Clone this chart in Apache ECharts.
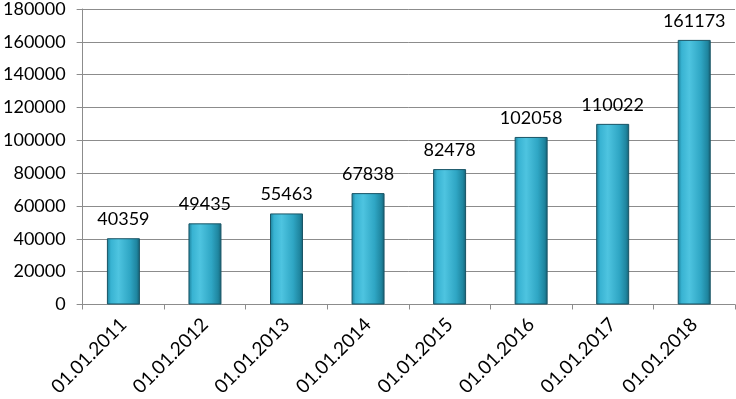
<!DOCTYPE html>
<html><head><meta charset="utf-8">
<script src="https://cdn.jsdelivr.net/npm/echarts@6/dist/echarts.min.js"></script>
<style>html,body{margin:0;padding:0;background:#fff}#c{width:736px;height:399px}</style>
</head><body><div id="c"></div>
<script>
const categories = ['01.01.2011','01.01.2012','01.01.2013','01.01.2014','01.01.2015','01.01.2016','01.01.2017','01.01.2018'];
const values = [40359, 49435, 55463, 67838, 82478, 102058, 110022, 161173];
const yTicks = { min: 0, max: 180000, interval: 20000 };

const chart = echarts.init(document.getElementById('c'), null, {renderer:'canvas'});
const font = 'Lato, "Open Sans", sans-serif';
chart.setOption({
  animation: false,
  grid: { left: 81, right: 1, top: 7, bottom: 93 },
  xAxis: {
    type: 'category', data: categories,
    axisLine: { lineStyle: { color: '#8c8c8c', width: 1 } },
    axisTick: { show: true, alignWithLabel: false, length: 5, lineStyle: { color: '#8c8c8c' } },
    axisLabel: { rotate: 45, color: '#000', fontSize: 19, fontFamily: font, margin: 17 }
  },
  yAxis: {
    type: 'value', min: yTicks.min, max: yTicks.max, interval: yTicks.interval,
    axisLine: { show: true, lineStyle: { color: '#8c8c8c', width: 1 } },
    axisTick: { show: true, length: 6, lineStyle: { color: '#8c8c8c' } },
    axisLabel: { color: '#000', fontSize: 18, fontFamily: font, margin: 17, formatter: v => String(v) },
    splitLine: { show: true, lineStyle: { color: '#8c8c8c', width: 1 } }
  },
  series: [{
    type: 'bar', data: values, barWidth: 33,
    itemStyle: {
      color: { type: 'linear', x: 0, y: 0, x2: 1, y2: 0, colorStops: [
        { offset: 0, color: '#1a7d97' },
        { offset: 0.12, color: '#38b3d2' },
        { offset: 0.35, color: '#4ec4e0' },
        { offset: 0.7, color: '#2fa6c4' },
        { offset: 0.9, color: '#1f86a0' },
        { offset: 1, color: '#165f72' }
      ]},
      borderColor: '#1a5566', borderWidth: 1
    },
    label: { show: true, position: 'top', distance: 10, color: '#000', fontSize: 18, fontFamily: font, formatter: p => String(p.value) }
  }]
});
</script></body></html>
